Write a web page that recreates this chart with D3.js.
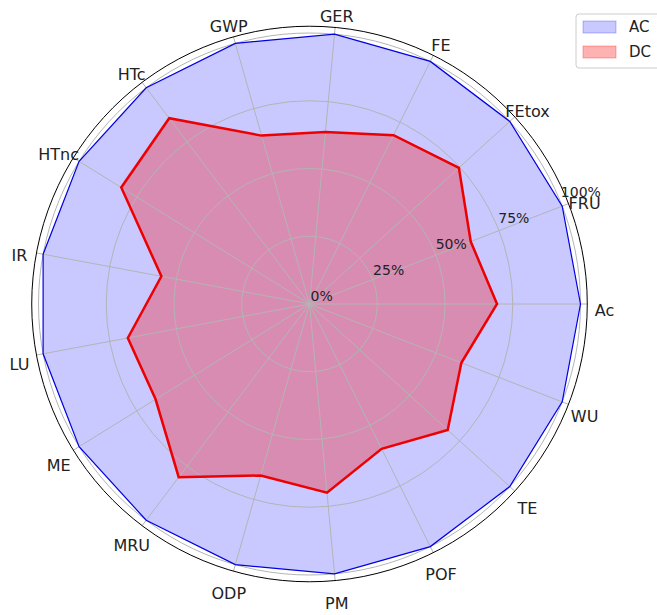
<!DOCTYPE html>
<html><head><meta charset="utf-8">
<script src="https://cdn.jsdelivr.net/npm/d3@7"></script>
<style>
html,body{margin:0;padding:0;background:#fff;}
svg{display:block;}
text{font-family:"DejaVu Sans",sans-serif;fill:#222;}
</style></head>
<body>
<svg id="chart" width="657" height="615"></svg>
<script>
const categories = ["Ac","FRU","FEtox","FE","GER","GWP","HTc","HTnc","IR","LU","ME","MRU","ODP","PM","POF","TE","WU"];
const acValues = [1,1,1,1,1,1,1,1,1,1,1,1,1,1,1,1,1];
const dcValues = [0.692,0.638,0.746,0.696,0.637,0.646,0.859,0.817,0.556,0.682,0.668,0.801,0.658,0.699,0.597,0.690,0.601];
const rTicks = [0, 0.25, 0.5, 0.75, 1.0];
const rTickLabels = ["0%","25%","50%","75%","100%"];
const seriesNames = ["AC","DC"];

const svg = d3.select("#chart");
const cx = 309.5, cy = 304;
const rMax = 1.025;
const r = d3.scaleLinear().domain([0, 1]).range([0, 271]);
const n = categories.length;
// matplotlib-style angle (counterclockwise from east)
const theta = d3.scaleLinear().domain([0, n]).range([0, 2 * Math.PI]);
const d3angle = i => Math.PI / 2 - theta(i);

const g = svg.append("g").attr("transform", `translate(${cx},${cy})`);

const line = d3.lineRadial()
  .angle((d, i) => d3angle(i))
  .radius(d => r(d))
  .curve(d3.curveLinearClosed);

// fills
g.append("path").attr("d", line(acValues))
  .attr("fill", "rgba(0,0,255,0.21)").attr("stroke", "none");
g.append("path").attr("d", line(dcValues))
  .attr("fill", "rgba(255,0,0,0.3)").attr("stroke", "none");

// grid circles
g.selectAll("circle.grid").data(rTicks.filter(t => t > 0)).join("circle")
  .attr("class", "grid").attr("r", d => r(d))
  .attr("fill", "none").attr("stroke", "#b4b4b4").attr("stroke-width", 1);

// spokes
g.selectAll("line.spoke").data(categories).join("line")
  .attr("x1", 0).attr("y1", 0)
  .attr("x2", (d, i) => r(rMax) * Math.cos(theta(i)))
  .attr("y2", (d, i) => -r(rMax) * Math.sin(theta(i)))
  .attr("stroke", "#b4b4b4").attr("stroke-width", 1);

// outlines
g.append("path").attr("d", line(acValues))
  .attr("fill", "none").attr("stroke", "#0000e0").attr("stroke-width", 1.2);
g.append("path").attr("d", line(dcValues))
  .attr("fill", "none").attr("stroke", "#ee0000").attr("stroke-width", 2.5)
  .attr("stroke-linejoin", "miter");

// outer spine
g.append("circle").attr("r", r(rMax)).attr("fill", "none")
  .attr("stroke", "#000").attr("stroke-width", 1);

// radial tick labels
const rlAng = 22.5 * Math.PI / 180;
g.selectAll("text.rl").data(rTicks).join("text")
  .attr("class", "rl")
  .attr("x", d => r(d) * Math.cos(rlAng) + 1)
  .attr("y", d => -r(d) * Math.sin(rlAng) - 3)
  .attr("font-size", 14)
  .attr("text-anchor", "start")
  .text((d, i) => rTickLabels[i]);

// category labels
const labR = 295;
g.selectAll("text.cat").data(categories).join("text")
  .attr("class", "cat")
  .attr("x", (d, i) => labR * Math.cos(theta(i)))
  .attr("y", (d, i) => -labR * Math.sin(theta(i)) + 6)
  .attr("font-size", 16)
  .attr("text-anchor", "middle")
  .attr("dominant-baseline", "central")
  .text(d => d);

// legend
const lg = svg.append("g").attr("transform", "translate(576,14)");
lg.append("rect").attr("x", 0).attr("y", 0).attr("width", 100).attr("height", 54)
  .attr("rx", 3).attr("fill", "rgba(255,255,255,0.8)").attr("stroke", "#cccccc").attr("stroke-width", 1);
const legColors = ["rgba(0,0,255,0.21)", "rgba(255,0,0,0.3)"];
const legStroke = ["rgba(0,0,255,0.25)", "rgba(255,0,0,0.3)"];
lg.selectAll("rect.sw").data(seriesNames).join("rect")
  .attr("class", "sw")
  .attr("x", 7).attr("y", (d, i) => 7 + i * 25)
  .attr("width", 33).attr("height", 12)
  .attr("fill", (d, i) => legColors[i]).attr("stroke", (d, i) => legStroke[i]);
lg.selectAll("text.lt").data(seriesNames).join("text")
  .attr("class", "lt")
  .attr("x", 53).attr("y", (d, i) => 13 + i * 25)
  .attr("font-size", 15)
  .attr("dominant-baseline", "central")
  .text(d => d);
</script>
</body></html>
